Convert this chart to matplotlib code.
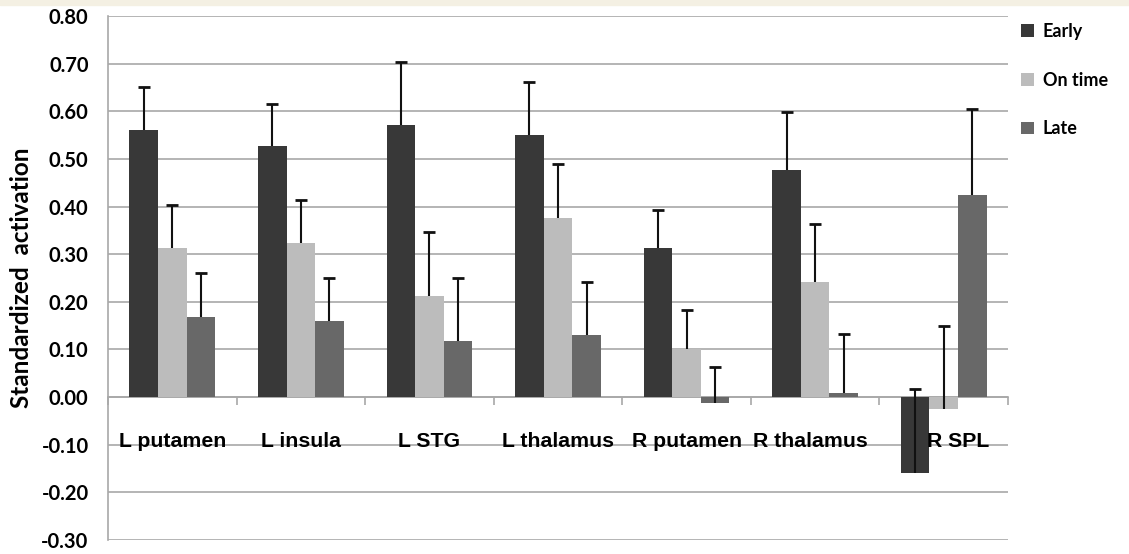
import matplotlib
matplotlib.use("Agg")
import matplotlib.pyplot as plt
import numpy as np
from matplotlib.patches import Patch, Rectangle

# values
regions = ["L putamen", "L insula", "L STG", "L thalamus", "R putamen", "R thalamus", "R SPL"]
early = [0.560, 0.528, 0.572, 0.551, 0.312, 0.476, -0.160]
early_err = [0.090, 0.088, 0.131, 0.110, 0.081, 0.122, 0.177]
on_time = [0.313, 0.323, 0.213, 0.377, 0.101, 0.241, -0.025]
on_time_err = [0.091, 0.091, 0.133, 0.112, 0.081, 0.123, 0.175]
late = [0.169, 0.159, 0.117, 0.131, -0.012, 0.008, 0.425]
late_err = [0.091, 0.091, 0.133, 0.110, 0.076, 0.124, 0.180]

series = [("Early", early, early_err, "#383838"),
          ("On time", on_time, on_time_err, "#bcbcbc"),
          ("Late", late, late_err, "#686868")]

LABEL_FONT = ["Liberation Sans", "DejaVu Sans"]
CAL_FONT = ["Lato", "DejaVu Sans"]

fig = plt.figure(figsize=(11.29, 5.54), dpi=100)
fig.patches.append(Rectangle((0, 1 - 5 / 554), 1, 5 / 554, transform=fig.transFigure,
                             color="#f4f0e3", zorder=0))
ax = fig.add_axes([108 / 1129, 14 / 554, 900 / 1129, 524 / 554])

x = np.arange(len(regions))
w = 0.222
for k, (name, vals, err, col) in enumerate(series):
    pos = x + (k - 1) * w
    ax.bar(pos, vals, width=w, color=col, zorder=3, label=name)
    _, caps, _ = ax.errorbar(pos, vals, yerr=[np.zeros(len(err)), err], fmt="none",
                             ecolor="#111111", elinewidth=1.5, capsize=4, capthick=2, zorder=4)
    caps[0].set_visible(False)  # plus-only error bars: hide the lower caps

ax.set_xlim(-0.5, len(regions) - 0.5)
ax.set_ylim(-0.30, 0.80)
ticks = np.round(np.arange(-0.3, 0.81, 0.1), 2)
ax.set_yticks(ticks)
ax.set_yticklabels([f"{v:.2f}" for v in ticks],
                   fontfamily=CAL_FONT, fontweight="bold", fontsize=14.5)
ax.tick_params(axis="y", length=0, pad=14)
ax.grid(axis="y", color="#a8a8a8", lw=1.2, zorder=0)
ax.set_axisbelow(True)
for s in ("top", "right"):
    ax.spines[s].set_visible(False)
ax.spines["left"].set_color("#a8a8a8")
ax.spines["left"].set_linewidth(1.2)
ax.spines["bottom"].set_position(("data", 0))
ax.spines["bottom"].set_color("#a8a8a8")
ax.spines["bottom"].set_linewidth(1.2)
ax.set_xticks(np.arange(len(regions) + 1) - 0.5)
ax.set_xticklabels([])
ax.tick_params(axis="x", length=6, color="#a8a8a8", width=1.2, direction="out")

nudge = [0, 0, 0, 0, 0, -0.04, 0.11]
for i, name in enumerate(regions):
    ax.text(i + nudge[i], -0.093, name, ha="center", va="center", fontsize=15.3,
            fontweight="bold", fontfamily=LABEL_FONT, zorder=5)

ax.set_ylabel("Standardized  activation", fontfamily=CAL_FONT, fontweight="bold",
              fontsize=17.5, labelpad=6)

handles = [Patch(facecolor=c, label=n) for n, _, _, c in series]
fig.legend(handles=handles, loc="upper left", bbox_to_anchor=(1021 / 1129, 1 - 23 / 554),
           frameon=False, prop={"family": CAL_FONT, "weight": "bold", "size": 13},
           handlelength=0.7, handleheight=0.7, handletextpad=0.5, labelspacing=1.75,
           borderpad=0, borderaxespad=0)

fig.savefig("out.png", dpi=100)
